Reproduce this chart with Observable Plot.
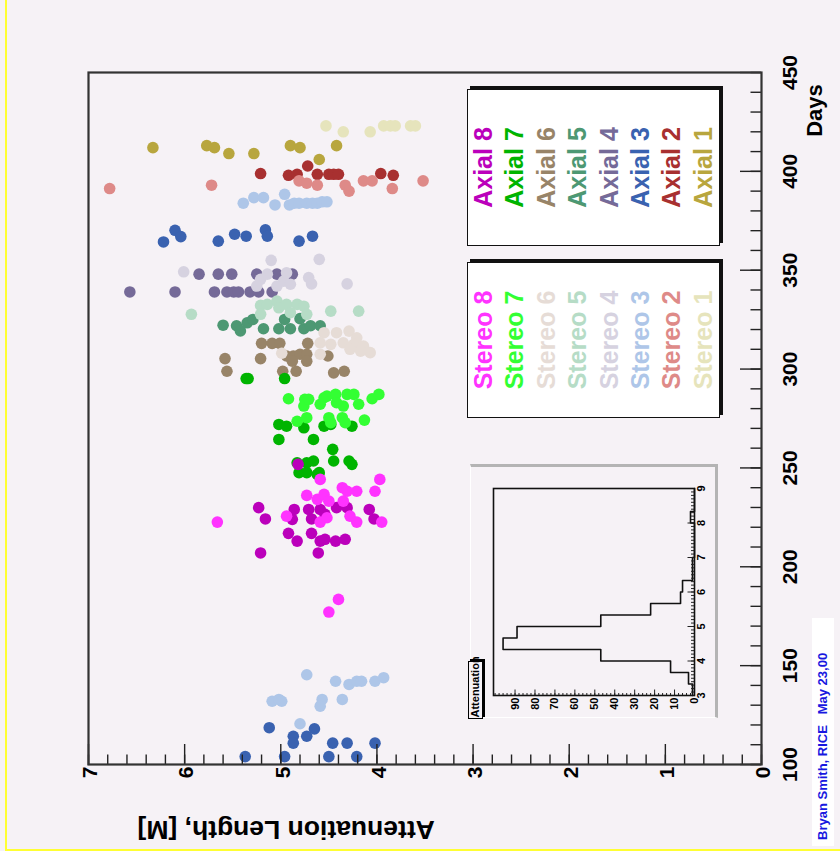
<!DOCTYPE html>
<html><head><meta charset="utf-8">
<script src="https://cdn.jsdelivr.net/npm/d3@7"></script>
<script src="https://cdn.jsdelivr.net/npm/@observablehq/plot@0.6"></script>
<style>
html,body{margin:0;padding:0;background:#fff;width:840px;height:863px;overflow:hidden;}
#land{position:absolute;left:0;top:0;width:863px;height:840px;transform-origin:0 0;
  transform:translate(0px,863px) rotate(-90deg);background:#f6f2f6;
  font-family:"Liberation Sans",Arial,Helvetica,sans-serif;overflow:hidden;}
.abs{position:absolute;}
#whiteStrip{left:0;top:0;width:11.5px;height:840px;background:#fff;}
#yelL{left:11.5px;top:5px;width:2.8px;height:835px;background:#ffff33;}
#yelT{left:11.5px;top:5px;width:851.5px;height:2.4px;background:#ffff33;}
.leg{position:absolute;top:467px;height:253px;background:#fff;border:1.5px solid #111;
  box-shadow:3px 3px 0 #111;box-sizing:border-box;text-align:center;}
.leg div{font-weight:bold;font-size:25px;line-height:31.4px;white-space:nowrap;}
#pad{left:145px;top:470px;width:254px;height:248px;box-sizing:border-box;
  border-right:3px solid #b4b4b4;border-bottom:3px solid #b4b4b4;border-left:1px solid #fff;border-top:1px solid #fff;}
#hTitle{left:143.5px;top:468px;width:58px;height:15px;box-sizing:border-box;border:1.5px solid #000;
  box-shadow:2px 2px 0 #000;background:#f6f2f6;font-size:11px;font-weight:bold;line-height:12px;
  white-space:nowrap;overflow:visible;padding-left:1px;}
#sign{left:17px;top:812px;width:228px;height:22px;background:#fff;color:#1818e0;font-weight:bold;
  font-size:13px;line-height:22px;white-space:pre;padding-left:6px;box-sizing:border-box;}
</style></head>
<body>
<div id="land">
  <div id="whiteStrip" class="abs"></div>
  <div id="yelL" class="abs"></div>
  <div id="yelT" class="abs"></div>
  <div id="main" class="abs" style="left:0;top:0"></div>
  <div id="pad" class="abs"></div>
  <div id="inset" class="abs" style="left:145px;top:470px"></div>
  <div id="hTitle" class="abs">Attenuation</div>
  <div id="legS" class="leg" style="left:445px;width:156px"></div>
  <div id="legA" class="leg" style="left:617px;width:157px"></div>
  <div id="sign" class="abs">Bryan Smith, RICE   May 23,00</div>
</div>
<script>
// ---- data: [day, attenuation length (m)] ----
const axial1 = [[412,6.33],[413,5.77],[412,5.69],[409,5.54],[409,5.28],[413,4.90],[412,4.80],[413,4.42],[406,4.60]];
const stereo1 = [[423,4.53],[420,4.35],[420,4.07],[423,3.93],[423,3.86],[423,3.81],[423,3.65],[423,3.60]];
const axial2 = [[398.9,5.21],[398,4.92],[398.5,4.83],[402.7,4.72],[398.5,4.62],[398.5,4.50],[398.5,4.45],[398.5,4.40],[398.9,3.96],[398,3.83]];
const stereo2 = [[391.3,6.78],[393,5.72],[395.2,4.81],[394,4.73],[393,4.62],[393,4.33],[390,4.29],[395.2,4.14],[395.2,4.05],[391.3,3.84],[395.2,3.52]];
const axial3 = [[370.2,6.10],[367,6.04],[364.3,6.22],[364.7,5.65],[368.2,5.48],[367.2,5.36],[370.4,5.16],[367.2,5.14],[364.7,4.81],[367.2,4.67],
  [118.6,5.12],[114.3,4.87],[110.8,4.87],[114.3,4.73],[118,4.65],[110.8,4.46],[110.8,4.31],[110.8,4.02],[104,5.37],[104,4.96],[104,4.50],[104,4.21]];
const stereo3 = [[383.9,5.39],[386.7,5.28],[386.7,5.18],[383,5.06],[388.4,4.96],[383,4.91],[383.9,4.86],[383.9,4.81],[383.9,4.73],[383.9,4.67],[383.9,4.62],[384.6,4.57],[384.6,4.52],
  [145.4,4.73],[142.1,4.43],[140.5,4.29],[142.1,4.21],[142.1,4.16],[142.1,4.02],[143.9,3.93],[132,5.09],[132.9,5.02],[132,4.99],[132.9,4.57],[129.5,4.59],[132.9,4.36],[120.6,4.80]];
const axial4 = [[339,6.57],[339,6.10],[348,5.85],[348,5.65],[348,5.51],[339,5.69],[339,5.56],[339,5.49],[339,5.44],[339,5.32],[339,5.23],[339,5.09],[348,5.25],[348,5.04],[348,4.88]];
const stereo4 = [[349.2,6.01],[355,5.10],[355.5,4.60],[348,5.14],[345.4,5.21],[344.5,4.97],[348.7,4.94],[342.9,4.90],[342,5.04],[346.3,4.71],[343.1,4.68],[343.1,4.31],[342,5.25]];
const axial5 = [[322.2,5.60],[321.9,5.46],[319.3,5.42],[323.4,5.35],[325.1,5.29],[320.4,5.18],[320.4,5.02],[325.1,4.96],[320.4,4.90],[320.4,4.76],[321.9,4.69],[321.9,4.59],[325.5,4.80]];
const stereo5 = [[327.7,5.93],[332.2,5.21],[332.7,5.14],[334.4,5.04],[332.7,4.94],[332.7,4.83],[331.8,4.76],[327.7,5.21],[328.5,4.90],[327.7,4.73],[329.3,4.48],[329.3,4.19],[331,5.02]];
const axial6 = [[313,5.20],[313,5.09],[313,5.01],[313,4.72],[305.3,5.58],[305.3,5.21],[306.6,4.94],[306.6,4.87],[307.5,4.80],[307.5,4.73],[304,4.73],[304,4.88],[298.9,5.56],[298.9,4.98],[298.9,4.84],[306.6,4.51],[298.1,4.45],[298.9,4.34]];
const stereo6 = [[318.4,4.55],[318.4,4.42],[319.2,4.29],[315.8,4.21],[313.3,4.59],[312.5,4.48],[313.3,4.35],[312.5,4.24],[311.6,4.14],[308.3,4.07],[307.5,4.59],[308,4.99],[310,4.28],[309.1,4.17]];
const axial7 = [[295.2,5.36],[295.2,5.34],[295.2,4.96],[272,5.02],[271.1,4.94],[270.3,4.76],[271.1,4.55],[272,4.48],[271.1,4.26],[264.4,5.02],[264.4,4.66],[259.4,4.46],
  [252.6,4.83],[253.5,4.66],[253.5,4.45],[253.5,4.29],[251.8,4.26],[247.6,4.81],[246.7,4.62],[252.6,4.73],[247.6,4.73],[247.6,4.60]];
const stereo7 = [[285,4.92],[284.7,4.75],[281.3,4.76],[284.7,4.71],[282.2,4.59],[285.5,4.55],[286.3,4.52],[287.2,4.43],[281.3,4.35],[287.2,4.31],[287.2,4.24],[282.2,4.19],[285,4.05],[287.2,3.98],
  [273.6,4.83],[275.4,4.73],[275.4,4.50],[272.9,4.48],[275.4,4.36],[272.9,4.33],[274.2,4.13],[283,4.42]];
const axial8 = [[251.8,4.82],[229.9,5.23],[224.2,5.16],[229,4.86],[224,4.88],[229,4.71],[224.2,4.68],[229,4.59],[226.5,4.54],[229.9,4.42],[229.9,4.31],[229,4.08],[224.2,4.03],
  [216.9,4.92],[213,4.83],[216.9,4.68],[213,4.59],[213.9,4.54],[213,4.43],[213.9,4.33],[207,5.21],[207,4.61]];
const stereo8 = [[222.6,5.66],[225.6,4.94],[236.1,4.73],[244.2,4.59],[234.1,4.62],[236.6,4.55],[233.2,4.50],[240,4.36],[238.2,4.31],[238.2,4.21],[233.2,4.35],[238.2,4.02],[244.2,3.97],
  [222.6,3.95],[222.6,4.59],[224.8,4.52],[225.6,4.28],[222.6,4.21],[183.5,4.40],[177.1,4.50]];

const axialNames = ["Axial 1","Axial 2","Axial 3","Axial 4","Axial 5","Axial 6","Axial 7","Axial 8"];
const stereoNames = ["Stereo 1","Stereo 2","Stereo 3","Stereo 4","Stereo 5","Stereo 6","Stereo 7","Stereo 8"];
const axialColors = ["#b8a63e","#a83030","#3a62b0","#756a98","#4d9873","#988468","#00b400","#bb00bb"];
const stereoColors = ["#e6e4bc","#de8a88","#aec6e8","#d6d2e0","#b6dcc6","#e6dcd6","#33ff33","#ff33ff"];
const axialData = [axial1,axial2,axial3,axial4,axial5,axial6,axial7,axial8];
const stereoData = [stereo1,stereo2,stereo3,stereo4,stereo5,stereo6,stereo7,stereo8];

// axis ticks
const dayLabels = [100,150,200,250,300,350,400,450];
const attLabels = [0,1,2,3,4,5,6,7];
const dayMinor = d3.range(100, 451, 10);
const attMinor = d3.range(0, 7.001, 0.2);

// inset histogram of attenuation length
const histLo = [3.000,3.333,3.667,4.000,4.333,4.667,5.000,5.333,5.667,6.000,6.333,6.667,7.000,7.333,7.667,8.000,8.333,8.667];
const histCounts = [1,3,12,47,96,89,47,22,7,6,1,1,0,0,0,2,0,0];
const histLabels = [3,4,5,6,7,8,9];
const histYLabels = [0,10,20,30,40,50,60,70,80,90];

const font = "Liberation Sans, Arial, Helvetica, sans-serif";
const ink = "#222";

const dotMarks = [];
for (let i = 0; i < 8; i++) {
  dotMarks.push(Plot.dot(axialData[i], {x: d => d[0], y: d => d[1], r: 5.8, fill: axialColors[i], stroke: "none"}));
  dotMarks.push(Plot.dot(stereoData[i], {x: d => d[0], y: d => d[1], r: 5.8, fill: stereoColors[i], stroke: "none"}));
}

const W = 863, H = 840, mL = 98, mR = 73, mT = 88, mB = 79;
const fw = W - mL - mR, fh = H - mT - mB;

const chart = Plot.plot({
  width: W, height: H, marginLeft: mL, marginRight: mR, marginTop: mT, marginBottom: mB,
  x: {domain: [100, 450], axis: null},
  y: {domain: [0, 7], axis: null},
  style: {background: "transparent", fontFamily: font, color: "#000", overflow: "visible"},
  marks: [
    ...dotMarks,
    Plot.tickX(dayMinor, {x: d => d, insetTop: fh - 10.5, stroke: ink, strokeWidth: 1.4}),
    Plot.tickX(dayLabels, {x: d => d, insetTop: fh - 21, stroke: ink, strokeWidth: 1.4}),
    Plot.tickY(attMinor, {y: d => d, insetRight: fw - 10.5, stroke: ink, strokeWidth: 1.4}),
    Plot.tickY(attLabels, {y: d => d, insetRight: fw - 21, stroke: ink, strokeWidth: 1.4}),
    Plot.frame({stroke: "#333", strokeWidth: 2.2}),
    Plot.text(dayLabels, {x: d => d, text: d => String(d), frameAnchor: "bottom", lineAnchor: "top", dy: 21, fontSize: 21, fontWeight: "bold", fill: "#000"}),
    Plot.text(attLabels, {y: d => d, text: d => String(d), frameAnchor: "left", textAnchor: "end", dx: -2, dy: 2, fontSize: 21, fontWeight: "bold", fill: "#000"}),
    Plot.text(["Days"], {text: d => d, frameAnchor: "bottom-right", textAnchor: "middle", lineAnchor: "top", dx: -38, dy: 45, fontSize: 22, fontWeight: "bold", fill: "#000"}),
    Plot.text(["Attenuation Length, [M]"], {text: d => d, frameAnchor: "top-left", rotate: -90, textAnchor: "end", lineAnchor: "middle", dx: -65, dy: 49, fontSize: 26.5, fontWeight: "bold", fill: "#000"})
  ]
});
document.getElementById("main").appendChild(chart);

// inset histogram
const steps = [];
histLo.forEach((lo, i) => {
  const hi = i + 1 < histLo.length ? histLo[i + 1] : 9;
  steps.push({x: lo, y: histCounts[i]}, {x: hi, y: histCounts[i]});
});
const iW = 254, iH = 248, iL = 22, iR = 25, iT = 23, iB = 24;
const ifw = iW - iL - iR, ifh = iH - iT - iB;
const inset = Plot.plot({
  width: iW, height: iH, marginLeft: iL, marginRight: iR, marginTop: iT, marginBottom: iB,
  x: {domain: [3, 9], axis: null},
  y: {domain: [0, 100.8], axis: null},
  style: {background: "transparent", fontFamily: font, color: "#000", overflow: "visible"},
  marks: [
    Plot.line(steps, {x: "x", y: "y", stroke: "#111", strokeWidth: 1.6}),
    Plot.tickX(d3.range(3, 9.001, 0.1), {x: d => d, insetTop: ifh - 3, stroke: ink}),
    Plot.tickX(histLabels, {x: d => d, insetTop: ifh - 6.5, stroke: ink}),
    Plot.tickY(d3.range(0, 101, 2), {y: d => d, insetRight: ifw - 3, stroke: ink}),
    Plot.tickY(histYLabels, {y: d => d, insetRight: ifw - 6.5, stroke: ink}),
    Plot.frame({stroke: "#111", strokeWidth: 1.6}),
    Plot.text(histLabels, {x: d => d, text: d => String(d), frameAnchor: "bottom", lineAnchor: "top", dy: 3, fontSize: 11, fontWeight: "bold", fill: "#000"}),
    Plot.text(histYLabels, {y: d => d, text: d => String(d), frameAnchor: "left", textAnchor: "end", dx: -2, fontSize: 11, fontWeight: "bold", fill: "#000"})
  ]
});
document.getElementById("inset").appendChild(inset);

// legends (top to bottom: 8 .. 1)
function fillLegend(id, names, colors) {
  const box = document.getElementById(id);
  for (let i = 7; i >= 0; i--) {
    const d = document.createElement("div");
    d.textContent = names[i];
    d.style.color = colors[i];
    box.appendChild(d);
  }
}
fillLegend("legA", axialNames, axialColors);
fillLegend("legS", stereoNames, stereoColors);
</script>
</body></html>
